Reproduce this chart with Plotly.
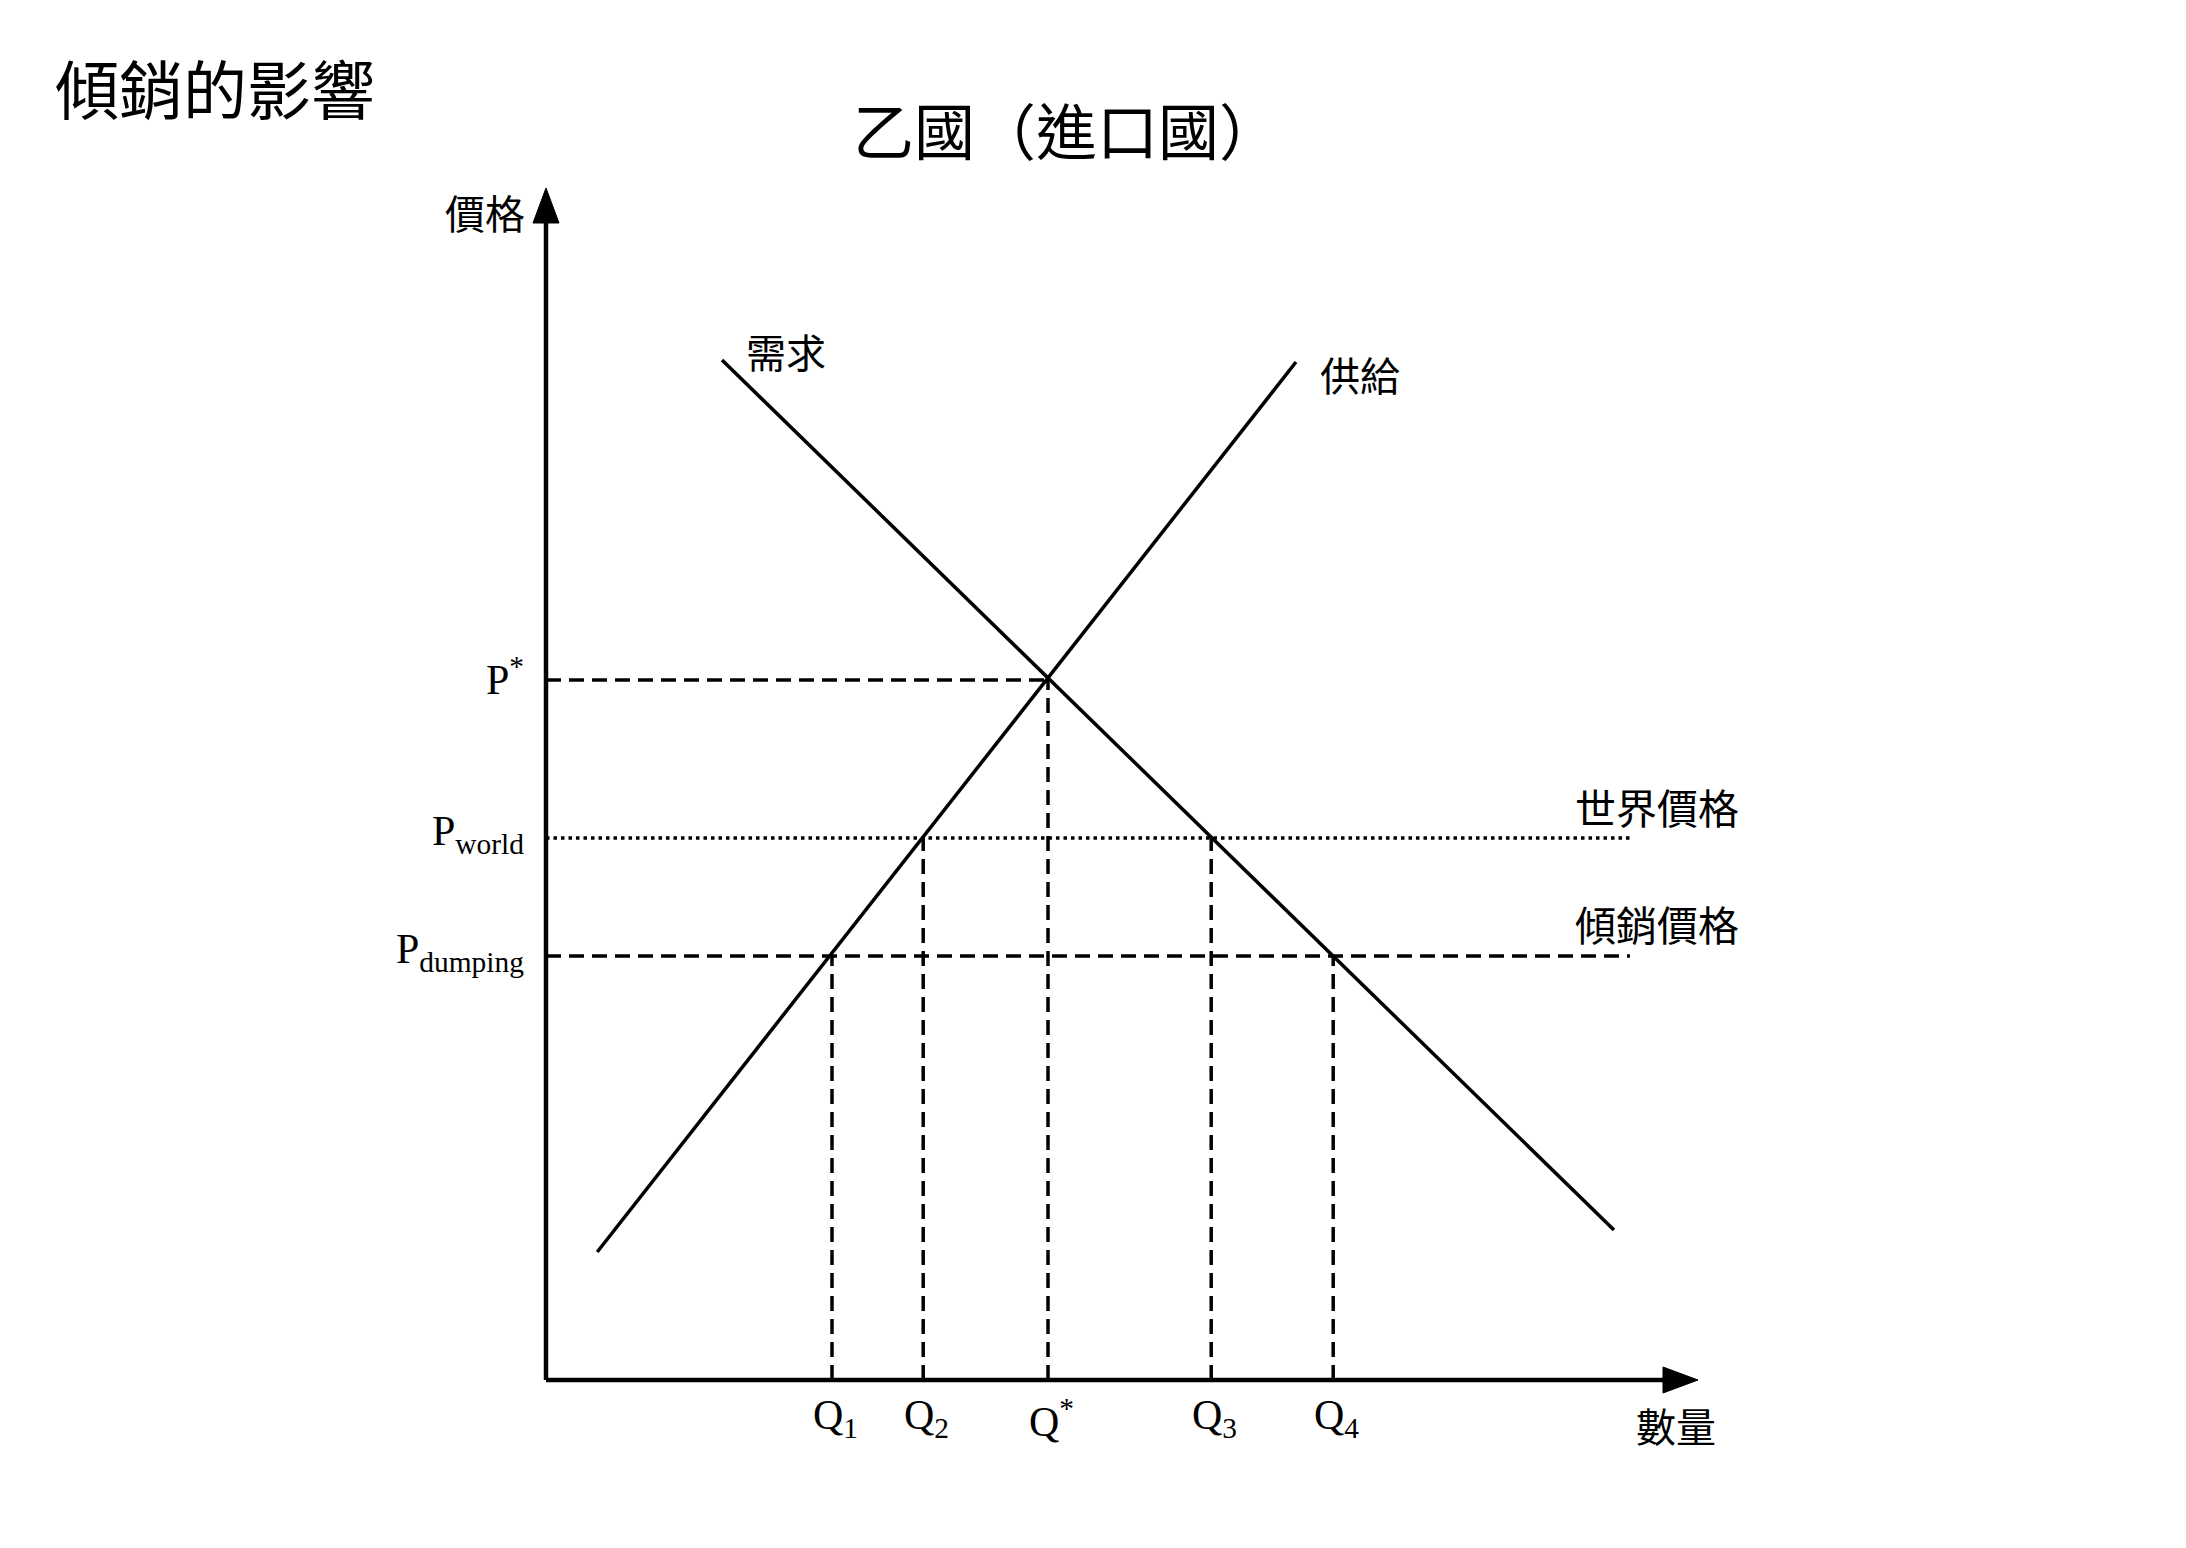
import plotly.graph_objects as go

# ---------------- data (arbitrary units) ----------------
supply_q = [1.28, 18.75]
supply_p = [3.2, 25.45]
demand_q = [4.4, 26.7]
demand_p = [25.5, 3.75]

price_names = ["P<sup>*</sup>", "P<sub>world</sub>", "P<sub>dumping</sub>"]
price_vals = [17.5, 13.55, 10.6]

qty_names = ["Q<sub>1</sub>", "Q<sub>2</sub>", "Q<sup>*</sup>", "Q<sub>3</sub>", "Q<sub>4</sub>"]
qty_vals = [7.15, 9.43, 12.55, 16.63, 19.68]
qty_price = [10.6, 13.55, 17.5, 13.55, 10.6]

hline_end = 27.1
x_axis_end = 28.8
y_axis_end = 29.8

title_main = "傾銷的影響"
title_sub = "乙國（進口國）"
y_label = "價格"
x_label = "數量"
demand_label = "需求"
supply_label = "供給"
world_label = "世界價格"
dump_label = "傾銷價格"

# ---------------- figure ----------------
W, H = 2186, 1548
OFF = 8  # browser body margin
PX = 40.0  # pixels per unit
x0_px, y0_px = 546 - OFF, 1380 - OFF
xr = [-x0_px / PX, (W - x0_px) / PX]
yr = [-(H - y0_px) / PX, y0_px / PX]

LAT = "Liberation Serif, DejaVu Serif, serif"
CJK = "Noto Sans CJK TC, Noto Sans CJK SC, sans-serif"

fig = go.Figure()

# supply & demand
fig.add_trace(go.Scatter(x=supply_q, y=supply_p, mode="lines",
                         line=dict(color="black", width=3.5), hoverinfo="skip"))
fig.add_trace(go.Scatter(x=demand_q, y=demand_p, mode="lines",
                         line=dict(color="black", width=3.5), hoverinfo="skip"))

dash = "15px,8px"
# horizontal guide lines
fig.add_trace(go.Scatter(x=[0, qty_vals[2]], y=[price_vals[0]] * 2, mode="lines",
                         line=dict(color="black", width=3.5, dash=dash), hoverinfo="skip"))
fig.add_trace(go.Scatter(x=[0, hline_end], y=[price_vals[1]] * 2, mode="lines",
                         line=dict(color="black", width=3.5, dash="3.5px,4px"), hoverinfo="skip"))
fig.add_trace(go.Scatter(x=[0, hline_end], y=[price_vals[2]] * 2, mode="lines",
                         line=dict(color="black", width=3.5, dash=dash), hoverinfo="skip"))
# vertical guide lines
for q, p in zip(qty_vals, qty_price):
    fig.add_trace(go.Scatter(x=[q, q], y=[0, p], mode="lines",
                             line=dict(color="black", width=3.5, dash=dash), hoverinfo="skip"))

# axes
fig.add_shape(type="line", x0=0, y0=0, x1=x_axis_end - 0.8, y1=0, line=dict(color="black", width=4.5))
fig.add_shape(type="line", x0=0, y0=0, x1=0, y1=y_axis_end - 0.8, line=dict(color="black", width=4.5))
hl, hw = 35 / PX, 13 / PX
fig.add_shape(type="path",
              path=f"M {x_axis_end} 0 L {x_axis_end - hl} {hw} L {x_axis_end - hl} {-hw} Z",
              fillcolor="black", line=dict(color="black", width=1))
fig.add_shape(type="path",
              path=f"M 0 {y_axis_end} L {hw} {y_axis_end - hl} L {-hw} {y_axis_end - hl} Z",
              fillcolor="black", line=dict(color="black", width=1))

# price tick labels
for name, p in zip(price_names, price_vals):
    fig.add_annotation(x=0, y=p, text=name, showarrow=False, xanchor="right", yanchor="middle",
                       xshift=-20, yshift=4, font=dict(family=LAT, size=42, color="black"))
# quantity tick labels
for name, q in zip(qty_names, qty_vals):
    fig.add_annotation(x=q, y=0, text=name, showarrow=False, xanchor="center", yanchor="middle",
                       xshift=3, yshift=-38, font=dict(family=LAT, size=42, color="black"))

def ptxt(text, xpx, ypx, size, xanchor="center"):
    fig.add_annotation(x=(xpx - OFF - x0_px) / PX, y=(y0_px - (ypx - OFF)) / PX, text=text,
                       showarrow=False, xanchor=xanchor, yanchor="middle",
                       font=dict(family=CJK, size=size, color="black"))

ptxt(title_main, 53, 86, 64, "left")
ptxt(title_sub, 1066, 128, 61)
ptxt(y_label, 485, 212, 40)
ptxt(x_label, 1676, 1425, 40)
ptxt(demand_label, 786, 351, 40)
ptxt(supply_label, 1360, 374, 40)
ptxt(world_label, 1657, 806, 41)
ptxt(dump_label, 1657, 923, 41)

fig.update_layout(
    width=W, height=H, margin=dict(l=0, r=0, t=0, b=0),
    paper_bgcolor="white", plot_bgcolor="white", showlegend=False,
    xaxis=dict(range=xr, visible=False, fixedrange=True),
    yaxis=dict(range=yr, visible=False, fixedrange=True),
)
fig.write_html("out.html")
